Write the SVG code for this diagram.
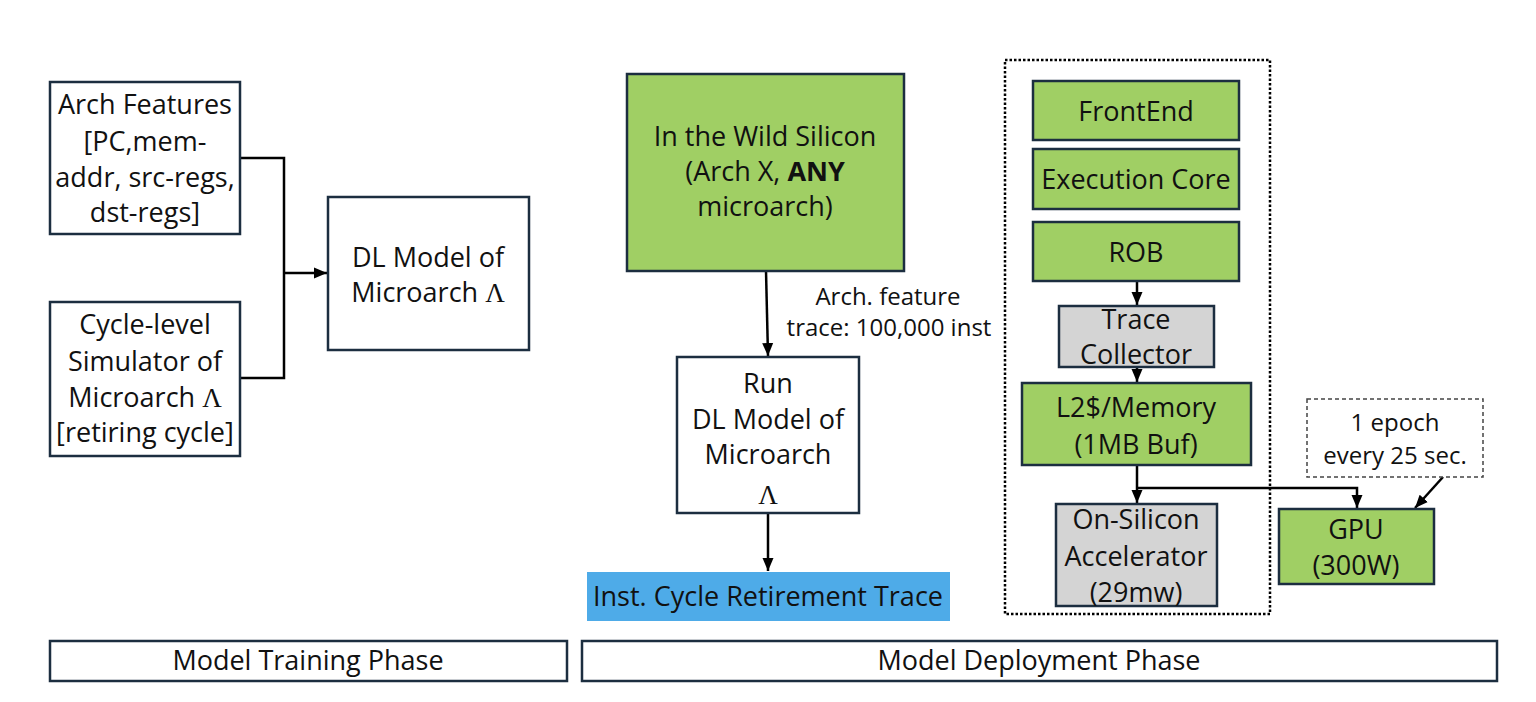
<svg xmlns="http://www.w3.org/2000/svg" width="1536" height="702" viewBox="0 0 1536 702">
<defs>
<style>
.box{fill:#ffffff;stroke:#1c2e40;stroke-width:2.5}
.grn{fill:#a0cf64;stroke:#1c2e40;stroke-width:2.5}
.gry{fill:#d4d4d4;stroke:#1c2e40;stroke-width:2.5}
.blu{fill:#4eabe8;stroke:none}
.t{font-family:"Open Sans","Liberation Sans",sans-serif;font-size:27px;fill:#111;text-anchor:middle}
.s{font-family:"Open Sans","Liberation Sans",sans-serif;font-size:24px;fill:#111;text-anchor:middle}
.lam{font-family:"Liberation Serif",serif}
.c{fill:none;stroke:#000;stroke-width:2.5}
</style>
<marker id="ah" markerUnits="userSpaceOnUse" markerWidth="14" markerHeight="14" viewBox="0 0 14 14" refX="13" refY="7" orient="auto">
<path d="M0,1.5 L13,7 L0,12.5 Z" fill="#000"/>
</marker>
</defs>
<rect width="1536" height="702" fill="#fff"/>

<g id="connectors">
<polyline class="c" points="240,158 284,158 284,378 240,378"/>
<line class="c" x1="284" y1="273" x2="327" y2="273" marker-end="url(#ah)"/>
<line class="c" x1="766" y1="271" x2="768" y2="356" marker-end="url(#ah)"/>
<line class="c" x1="768" y1="513" x2="768" y2="571" marker-end="url(#ah)"/>
<line class="c" x1="1137" y1="281" x2="1137" y2="305" marker-end="url(#ah)"/>
<line class="c" x1="1137" y1="367" x2="1137" y2="382" marker-end="url(#ah)"/>
<line class="c" x1="1137" y1="465" x2="1137" y2="503" marker-end="url(#ah)"/>
<polyline class="c" points="1137,488 1357,488 1357,508" marker-end="url(#ah)"/>
<line class="c" x1="1443" y1="477" x2="1415" y2="508" marker-end="url(#ah)"/>
</g>

<g id="arch-features">
<rect class="box" x="50" y="82" width="190" height="152"/>
<text class="t" x="145" y="114">Arch Features</text>
<text class="t" x="145" y="151">[PC,mem-</text>
<text class="t" x="145" y="187">addr, src-regs,</text>
<text class="t" x="145" y="222">dst-regs]</text>
</g>

<g id="simulator">
<rect class="box" x="50" y="302" width="190" height="154"/>
<text class="t" x="145" y="334">Cycle-level</text>
<text class="t" x="145" y="371">Simulator of</text>
<text class="t" x="145" y="407">Microarch <tspan class="lam">Λ</tspan></text>
<text class="t" x="145" y="442">[retiring cycle]</text>
</g>

<g id="dl-model">
<rect class="box" x="328" y="197" width="201" height="153"/>
<text class="t" x="428" y="267">DL Model of</text>
<text class="t" x="428" y="302">Microarch <tspan class="lam">Λ</tspan></text>
</g>

<g id="wild-silicon">
<rect class="grn" x="627" y="74" width="277" height="197"/>
<text class="t" x="765" y="146">In the Wild Silicon</text>
<text class="t" x="765" y="181">(Arch X, <tspan font-weight="bold">ANY</tspan></text>
<text class="t" x="765" y="216">microarch)</text>
</g>

<g id="trace-label">
<text class="s" x="888" y="305">Arch. feature</text>
<text class="s" x="889" y="336">trace: 100,000 inst</text>
</g>

<g id="run-model">
<rect class="box" x="677" y="357" width="182" height="156"/>
<text class="t" x="768" y="393">Run</text>
<text class="t" x="768" y="429">DL Model of</text>
<text class="t" x="768" y="464">Microarch</text>
<text class="t lam" x="768" y="504">Λ</text>
</g>

<g id="retirement-trace">
<rect class="blu" x="587" y="572" width="363" height="49"/>
<text class="t" x="768" y="606" font-size="27.5">Inst. Cycle Retirement Trace</text>
</g>

<g id="silicon-boundary">
<rect x="1005" y="60" width="265" height="554" fill="none" stroke="#000" stroke-width="2.5" stroke-dasharray="2.5 2"/>
</g>

<g id="frontend">
<rect class="grn" x="1033" y="81" width="206" height="59"/>
<text class="t" x="1136" y="121">FrontEnd</text>
</g>

<g id="execution-core">
<rect class="grn" x="1033" y="149" width="206" height="60"/>
<text class="t" x="1136" y="189">Execution Core</text>
</g>

<g id="rob">
<rect class="grn" x="1033" y="222" width="206" height="59"/>
<text class="t" x="1136" y="262">ROB</text>
</g>

<g id="trace-collector">
<rect class="gry" x="1059" y="306" width="155" height="61"/>
<text class="t" x="1136" y="329">Trace</text>
<text class="t" x="1136" y="364">Collector</text>
</g>

<g id="l2-memory">
<rect class="grn" x="1022" y="383" width="229" height="82"/>
<text class="t" x="1136" y="417">L2$/Memory</text>
<text class="t" x="1136" y="454">(1MB Buf)</text>
</g>

<g id="accelerator">
<rect class="gry" x="1056" y="504" width="161" height="102"/>
<text class="t" x="1136" y="529">On-Silicon</text>
<text class="t" x="1136" y="566">Accelerator</text>
<text class="t" x="1136" y="602">(29mw)</text>
</g>

<g id="epoch-note">
<rect x="1307" y="399" width="176" height="78" fill="#fff" stroke="#444" stroke-width="1.5" stroke-dasharray="4 3"/>
<text class="s" x="1395" y="431">1 epoch</text>
<text class="s" x="1395" y="464">every 25 sec.</text>
</g>

<g id="gpu">
<rect class="grn" x="1279" y="509" width="155" height="75"/>
<text class="t" x="1356" y="539" font-size="26">GPU</text>
<text class="t" x="1356" y="575" font-size="26">(300W)</text>
</g>

<g id="training-phase">
<rect class="box" x="50" y="641" width="517" height="40"/>
<text class="t" x="308" y="670">Model Training Phase</text>
</g>

<g id="deployment-phase">
<rect class="box" x="582" y="641" width="915" height="40"/>
<text class="t" x="1039" y="670">Model Deployment Phase</text>
</g>
</svg>
